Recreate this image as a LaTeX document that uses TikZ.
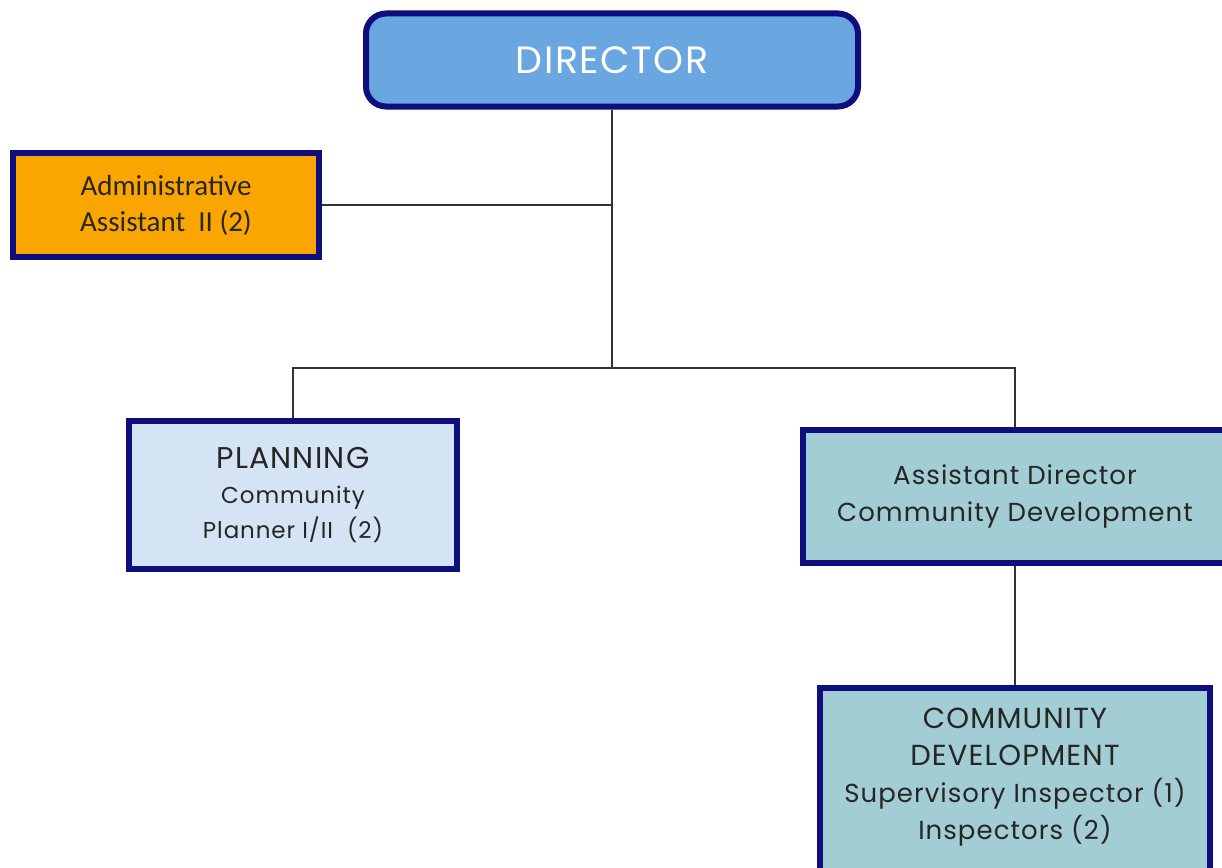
\documentclass[tikz,border=0pt]{standalone}
\usepackage{fontspec}
\setmainfont{Poppins}[LetterSpace=4]
\newfontfamily\calibri{Carlito}
\definecolor{navy}{HTML}{0E0E7E}
\definecolor{dirblue}{HTML}{6AA6E0}
\definecolor{admorange}{HTML}{FBA500}
\definecolor{planblue}{HTML}{D4E4F4}
\definecolor{cdteal}{HTML}{A2CDD4}
\definecolor{linegray}{HTML}{333333}
\newcommand{\capsz}{\fontsize{29}{37}\selectfont}
\newcommand{\bodysz}{\fontsize{26}{37}\selectfont}
\newcommand{\plansz}{\fontsize{23}{35}\selectfont}
\begin{document}
\begin{tikzpicture}[x=1pt,y=-1pt,
  box/.style={draw=navy, line width=6pt, align=center, inner sep=0pt, text=black!85},
  conn/.style={draw=linegray, line width=1.3pt}]
\path[use as bounding box] (0,0) rectangle (1222,867);
\clip (0,0) rectangle (1222,867);
\node[box, rounded corners=20pt, fill=dirblue, minimum width=492pt, minimum height=93pt,
      text=white, font=\fontsize{38}{40}\selectfont] (dir) at (612,60) {DIRECTOR};
\node[box, fill=admorange, minimum width=306pt, minimum height=104pt,
      font=\calibri\fontsize{29}{36}\selectfont] (adm) at (166,205) {Administrative\\Assistant~~II (2)};
\node[box, fill=planblue, minimum width=328pt, minimum height=148pt, font=\plansz] (plan) at (293,495)
      {{\fontsize{30}{35}\selectfont PLANNING}\\Community\\Planner I/II~~(2)};
\node[box, fill=cdteal, minimum width=424pt, minimum height=133pt, font=\bodysz] (asst) at (1015,496)
      {Assistant Director\\Community Development};
\node[box, fill=cdteal, minimum width=390pt, minimum height=200pt, anchor=north] (cd) at (1015,685) {};
\node[align=center, inner sep=0pt, text=black!85, anchor=center, font=\bodysz] (cdtext) at (1015,777)
      {{\capsz COMMUNITY}\\{\capsz DEVELOPMENT}\\Supervisory Inspector (1)\\Inspectors (2)};
\coordinate (hub) at (612,368);
\coordinate (admj) at (612,205);
\draw[conn] (dir.south) -- (hub);
\draw[conn] (adm.east) -- (admj);
\draw[conn] (plan.north) |- (hub) -| (asst.north);
\draw[conn] (asst.south) -- (cd.north);
\end{tikzpicture}
\end{document}
